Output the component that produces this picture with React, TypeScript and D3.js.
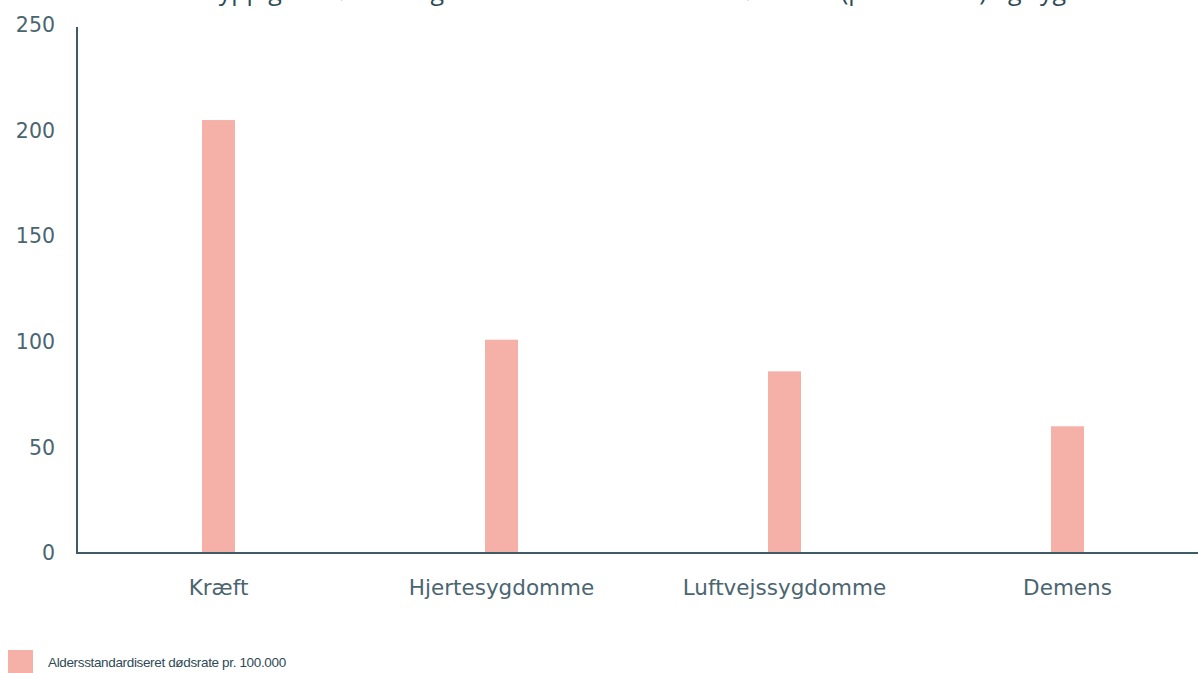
import React from "react";
import * as d3 from "d3";

const categories = ["Kræft", "Hjertesygdomme", "Luftvejssygdomme", "Demens"];
const values = [205, 101, 86, 60];
const yTicks = [0, 50, 100, 150, 200, 250];
const legendLabel = "Aldersstandardiseret dødsrate pr. 100.000";
const title = "Hyppigste dødsårsager: aldersstandardiseret dødsrate (pr. 100.000) og sygdom";

const W = 1198;
const H = 673;
const axisColor = "#3f5b66";
const textColor = "#4a6570";
const barColor = "#f5b1a7";

export default function App() {
  const x = d3.scaleBand<string>().domain(categories).range([77, 1209]);
  const y = d3.scaleLinear().domain([0, 250]).range([553, 25]);
  const step = x.step();
  const bw = 33;
  const cx = (c: string) => (x(c) as number) + step / 2;
  return (
    <svg width={W} height={H} style={{ position: "absolute", left: 0, top: 0, background: "#fff" }}>
      <text x={660} y={-0.5} textAnchor="middle" fontFamily="Open Sans" fontSize={25} fill="#2f4a55">
        {title}
      </text>
      {categories.map((c, i) => (
        <rect key={c} x={cx(c) - bw / 2} y={y(values[i])} width={bw} height={y(0) - y(values[i])} fill={barColor} />
      ))}
      <line x1={77} x2={77} y1={27} y2={553} stroke={axisColor} strokeWidth={2} />
      <line x1={76} x2={W} y1={553} y2={553} stroke={axisColor} strokeWidth={2} />
      {yTicks.map((t) => (
        <text key={t} x={55} y={y(t)} dy="0.35em" textAnchor="end" fontFamily="DejaVu Sans" fontSize={20.5} fill={textColor}>
          {t}
        </text>
      ))}
      {categories.map((c) => (
        <text key={c} x={cx(c)} y={587} dy="0.35em" textAnchor="middle" fontFamily="DejaVu Sans" fontSize={21.5} fill={textColor}>
          {c}
        </text>
      ))}
      <rect x={8} y={650} width={25} height={23} fill={barColor} />
      <text x={48} y={662} dy="0.35em" fontFamily="Liberation Sans" fontSize={13.5} letterSpacing={-0.35} fill="#2f4a55">
        {legendLabel}
      </text>
    </svg>
  );
}
